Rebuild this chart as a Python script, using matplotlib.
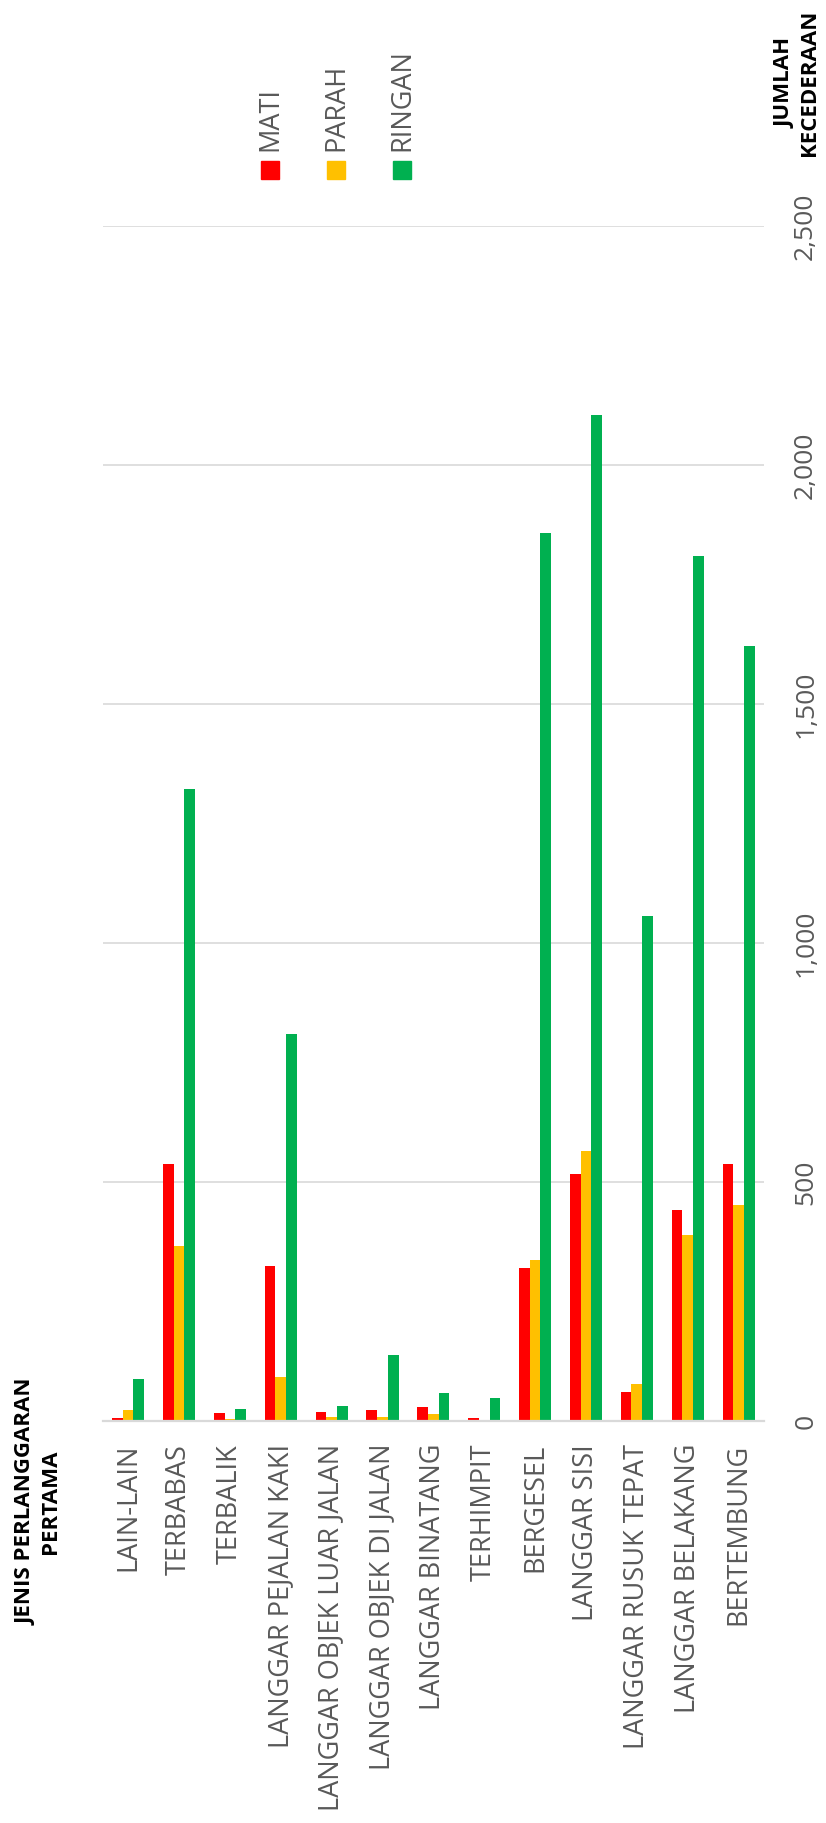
import matplotlib
matplotlib.use('Agg')
import matplotlib.pyplot as plt
from matplotlib.ticker import FuncFormatter, MultipleLocator
from matplotlib.patches import Rectangle
import numpy as np

plt.rcParams['font.family'] = ['Open Sans', 'DejaVu Sans']

categories = ['LAIN-LAIN', 'TERBABAS', 'TERBALIK', 'LANGGAR PEJALAN KAKI',
              'LANGGAR OBJEK LUAR JALAN', 'LANGGAR OBJEK DI JALAN', 'LANGGAR BINATANG',
              'TERHIMPIT', 'BERGESEL', 'LANGGAR SISI', 'LANGGAR RUSUK TEPAT',
              'LANGGAR BELAKANG', 'BERTEMBUNG']
mati = [5, 538, 17, 323, 19, 22, 28, 5, 319, 517, 59, 441, 537]
parah = [22, 365, 4, 91, 7, 7, 15, 2, 336, 564, 77, 389, 452]
ringan = [87, 1321, 25, 810, 30, 138, 58, 47, 1858, 2104, 1056, 1810, 1621]
series_names = ['MATI', 'PARAH', 'RINGAN']
series_colors = ['#FF0000', '#FFC000', '#00B050']
y_ticks = [0, 500, 1000, 1500, 2000, 2500]

W, H = 826, 1824
fig = plt.figure(figsize=(W / 100, H / 100), dpi=100)
ax = fig.add_axes([102.7 / W, 1 - 1421.7 / H, (764 - 102.7) / W, (1421.7 - 226.7) / H])

x = np.arange(len(categories))
w = 0.21
for i, (vals, c) in enumerate(zip([mati, parah, ringan], series_colors)):
    ax.bar(x + (i - 1) * w, vals, w, color=c, zorder=3)

ax.set_xlim(-0.5, len(categories) - 0.5)
ax.set_ylim(0, 2500)
ax.yaxis.tick_right()
ax.set_yticks(y_ticks)
ax.yaxis.set_major_formatter(FuncFormatter(lambda v, p: f'{int(v):,}'))
ax.grid(axis='y', color='#d9d9d9', lw=1.2, zorder=0)
ax.set_axisbelow(True)
for s in ['top', 'left', 'right']:
    ax.spines[s].set_visible(False)
ax.spines['bottom'].set_color('#d9d9d9')
ax.spines['bottom'].set_linewidth(1.6)
ax.spines['bottom'].set_zorder(4)
ax.tick_params(axis='both', length=0)
ax.set_xticks(x)
ax.set_xticklabels(categories, rotation=90, ha='center', va='top')
ax.tick_params(axis='x', pad=16, labelsize=19.5, labelcolor='#595959')
ax.tick_params(axis='y', pad=21, labelsize=19, labelcolor='#595959')
for t in ax.get_yticklabels():
    t.set_rotation(90)
    t.set_va('center')
    t.set_ha('left')

# axis titles
fig.text(797.7 / W, 1 - 83 / H, 'JUMLAH\nKECEDERAAN', rotation=90, ha='center', va='center',
         multialignment='center', fontweight='bold', fontsize=16, color='black')
fig.text(38 / W, 1 - 1502 / H, 'JENIS PERLANGGARAN\nPERTAMA', rotation=90, ha='center', va='center',
         multialignment='center', fontweight='bold', fontsize=16, color='black')

# legend
leg_x = [270, 336, 402]
for name, c, lx in zip(series_names, series_colors, leg_x):
    fig.add_artist(Rectangle(((lx - 9) / W, 1 - 180 / H), 18 / W, 18 / H,
                             transform=fig.transFigure, color=c))
    fig.text(lx / W, 1 - 151 / H, name, rotation=90, ha='center', va='bottom',
             fontsize=19.5, color='#595959')

fig.savefig('out.png', dpi=100)
